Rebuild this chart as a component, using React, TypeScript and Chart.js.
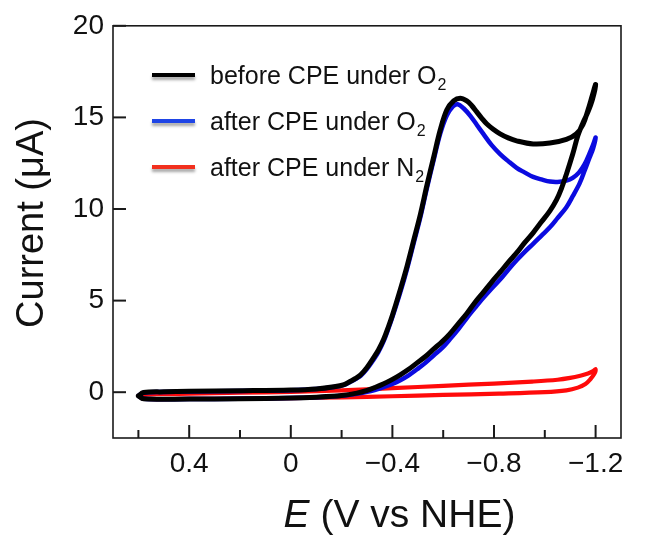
import React, { useEffect, useRef } from 'react';
import { Chart, registerables } from 'chart.js';

Chart.register(...registerables);

// ---- Data (E in V vs NHE, current in µA) ----
const blackE = [
  0.6, 0.58, 0.5, 0.4, 0.2, 0.0, -0.1, -0.17, -0.21, -0.235, -0.255, -0.275, -0.3, -0.327, -0.345, -0.366,
  -0.385, -0.4, -0.431, -0.458, -0.484, -0.51, -0.536, -0.562, -0.588, -0.614, -0.641, -0.667, -0.693,
  -0.712, -0.732, -0.752, -0.771, -0.797, -0.824, -0.856, -0.889, -0.954, -1.02, -1.085, -1.124, -1.15, -1.17, -1.187, -1.2,
  -1.188, -1.17, -1.15, -1.13, -1.11, -1.085, -1.065, -1.046, -1.02, -0.987, -0.954, -0.92, -0.889, -0.857,
  -0.824, -0.79, -0.758, -0.725, -0.693, -0.66, -0.627, -0.595, -0.562, -0.53, -0.497, -0.464, -0.431, -0.4,
  -0.366, -0.33, -0.301, -0.26, -0.2, -0.1, 0.0, 0.2, 0.4, 0.58, 0.6,
];
const blackI = [
  -0.2, -0.02, 0.02, 0.05, 0.08, 0.12, 0.18, 0.3, 0.42, 0.6, 0.75, 0.95, 1.35, 1.9, 2.3, 2.9,
  3.6, 4.2, 5.6, 6.9, 8.3, 9.7, 11.3, 12.8, 14.3, 15.4, 15.9, 16.05, 15.9,
  15.65, 15.3, 14.95, 14.65, 14.35, 14.1, 13.88, 13.72, 13.55, 13.6, 13.8, 14.1, 14.6, 15.4, 16.2, 16.8,
  16.0, 15.3, 14.7, 14.0, 13.0, 11.9, 11.1, 10.5, 9.9, 9.3, 8.7, 8.15, 7.6, 7.1,
  6.55, 6.0, 5.45, 4.9, 4.3, 3.75, 3.2, 2.75, 2.35, 1.95, 1.6, 1.25, 0.95, 0.7,
  0.46, 0.25, 0.1, -0.05, -0.18, -0.27, -0.32, -0.36, -0.37, -0.36, -0.2,
];

const blueE = [
  0.6, 0.58, 0.5, 0.4, 0.2, 0.0, -0.1, -0.17, -0.21, -0.235, -0.255, -0.275, -0.3, -0.327, -0.345, -0.366,
  -0.385, -0.4, -0.431, -0.458, -0.484, -0.51, -0.536, -0.562, -0.588, -0.614, -0.638, -0.657, -0.68,
  -0.706, -0.732, -0.758, -0.79, -0.824, -0.857, -0.889, -0.92, -0.954, -0.99, -1.02, -1.05, -1.085,
  -1.11, -1.135, -1.157, -1.175, -1.19, -1.2,
  -1.19, -1.176, -1.157, -1.137, -1.11, -1.085, -1.05, -1.02, -0.987, -0.954, -0.92, -0.889, -0.857,
  -0.824, -0.79, -0.758, -0.725, -0.693, -0.66, -0.627, -0.595, -0.562, -0.53, -0.497, -0.464, -0.431,
  -0.4, -0.366, -0.33, -0.301, -0.26, -0.2, -0.1, 0.0, 0.2, 0.4, 0.58, 0.6,
];
const blueI = [
  -0.2, -0.03, 0.01, 0.04, 0.07, 0.11, 0.17, 0.28, 0.4, 0.57, 0.72, 0.9, 1.28, 1.8, 2.2, 2.8,
  3.5, 4.1, 5.45, 6.75, 8.15, 9.55, 11.15, 12.65, 14.1, 15.1, 15.6, 15.72, 15.5,
  15.1, 14.6, 14.1, 13.5, 13.0, 12.6, 12.25, 12.0, 11.75, 11.6, 11.5, 11.48, 11.55,
  11.7, 12.0, 12.45, 13.0, 13.5, 13.9,
  13.3, 12.8, 12.1, 11.4, 10.7, 10.1, 9.5, 9.0, 8.55, 8.1, 7.65, 7.2, 6.7,
  6.15, 5.65, 5.15, 4.6, 4.05, 3.45, 2.9, 2.4, 2.0, 1.6, 1.25, 0.92, 0.65,
  0.45, 0.28, 0.12, 0.02, -0.08, -0.2, -0.28, -0.32, -0.36, -0.37, -0.36, -0.2,
];

const redE = [
  0.6, 0.58, 0.4, 0.2, 0.0, -0.2, -0.4, -0.6, -0.8, -0.95, -1.05, -1.1, -1.14, -1.17, -1.19, -1.2,
  -1.195, -1.18, -1.16, -1.13, -1.085, -1.0, -0.82, -0.6, -0.4, -0.2, 0.0, 0.2, 0.4, 0.58, 0.6,
];
const redI = [
  -0.2, -0.12, -0.08, -0.03, 0.02, 0.1, 0.22, 0.35, 0.47, 0.58, 0.68, 0.78, 0.9, 1.02, 1.15, 1.25,
  1.0, 0.72, 0.45, 0.25, 0.1, 0.0, -0.08, -0.15, -0.22, -0.28, -0.32, -0.35, -0.36, -0.35, -0.2,
];

const seriesLabels = ['before CPE under O₂', 'after CPE under O₂', 'after CPE under N₂'];
const legendMain = ['before CPE under O', 'after CPE under O', 'after CPE under N'];
const legendSub = ['2', '2', '2'];

const xMajorTicks = [0.4, 0, -0.4, -0.8, -1.2];
const xMinorTicks = [0.6, 0.2, -0.2, -0.6, -1.0];
const yTicks = [0, 5, 10, 15, 20];

const FONT = '"Liberation Sans", Arial, Helvetica, sans-serif';
const COLORS = ['#000000', '#0b0be0', '#ff0a0a'];
const LEGEND_COLORS = ['#000000', '#1f45e6', '#f2301e'];
const WIDTHS = [5, 4.5, 4.2];

const toPoints = (xs: number[], ys: number[]) => xs.map((x, i) => ({ x, y: ys[i] }));

const fmtX = (v: number) => {
  if (Math.abs(v) < 1e-9) return '0';
  const s = Math.abs(v).toFixed(1);
  return v < 0 ? '\u2212' + s : s;
};

const decorPlugin = {
  id: 'decor',
  afterDraw(chart: any) {
    const { ctx, chartArea: a } = chart;
    const xs = chart.scales.x;
    const ys = chart.scales.y;
    ctx.save();
    ctx.strokeStyle = '#1a1a1a';
    ctx.lineWidth = 1.6;
    ctx.strokeRect(a.left, a.top, a.right - a.left, a.bottom - a.top);

    const seg = (x1: number, y1: number, x2: number, y2: number) => {
      ctx.beginPath();
      ctx.moveTo(x1, y1);
      ctx.lineTo(x2, y2);
      ctx.stroke();
    };
    ctx.lineWidth = 2;
    yTicks.forEach((v) => {
      const py = ys.getPixelForValue(v);
      seg(a.left, py, a.left + 13, py);
    });
    xMajorTicks.forEach((v) => {
      const px = xs.getPixelForValue(v);
      seg(px, a.bottom, px, a.bottom - 13);
    });
    xMinorTicks.forEach((v) => {
      const px = xs.getPixelForValue(v);
      seg(px, a.bottom, px, a.bottom - 8);
    });

    // Legend
    const lx0 = 152, lx1 = 195, tx = 210;
    const rows = [75, 121, 167];
    legendMain.forEach((txt, i) => {
      const yy = rows[i];
      ctx.save();
      ctx.shadowColor = 'rgba(0,0,0,0.35)';
      ctx.shadowOffsetY = 3;
      ctx.shadowBlur = 3;
      ctx.strokeStyle = LEGEND_COLORS[i];
      ctx.lineWidth = 4;
      seg(lx0, yy, lx1, yy);
      ctx.restore();
      ctx.fillStyle = '#111';
      ctx.textAlign = 'left';
      ctx.textBaseline = 'alphabetic';
      ctx.font = `25px ${FONT}`;
      ctx.fillText(txt, tx, yy + 9);
      const w = ctx.measureText(txt).width;
      ctx.font = `16px ${FONT}`;
      ctx.fillText(legendSub[i], tx + w + 1, yy + 15);
    });

    // Axis titles
    ctx.fillStyle = '#111';
    ctx.save();
    ctx.translate(43, 223);
    ctx.rotate(-Math.PI / 2);
    ctx.font = `38px ${FONT}`;
    ctx.textAlign = 'center';
    ctx.textBaseline = 'alphabetic';
    ctx.fillText('Current (μA)', 0, 0);
    ctx.restore();

    ctx.textAlign = 'left';
    ctx.textBaseline = 'alphabetic';
    ctx.font = `italic 39px ${FONT}`;
    const e = 'E';
    const we = ctx.measureText(e).width;
    ctx.font = `39px ${FONT}`;
    const rest = ' (V vs NHE)';
    const wr = ctx.measureText(rest).width;
    const startX = 399.5 - (we + wr) / 2;
    ctx.font = `italic 39px ${FONT}`;
    ctx.fillText(e, startX, 527);
    ctx.font = `39px ${FONT}`;
    ctx.fillText(rest, startX + we, 527);
    ctx.restore();
  },
};

export default function App() {
  const ref = useRef<HTMLCanvasElement | null>(null);
  useEffect(() => {
    if (!ref.current) return;
    const data = [toPoints(blackE, blackI), toPoints(blueE, blueI), toPoints(redE, redI)];
    const chart = new Chart(ref.current, {
      type: 'scatter',
      data: {
        datasets: data.map((d, i) => ({
          label: seriesLabels[i],
          data: d,
          showLine: true,
          borderColor: COLORS[i],
          backgroundColor: COLORS[i],
          borderWidth: WIDTHS[i],
          pointRadius: 0,
          tension: 0.35,
          borderCapStyle: 'round',
          borderJoinStyle: 'round',
          fill: false,
        })),
      },
      options: {
        responsive: false,
        animation: false,
        layout: { padding: { left: 0, top: 25, right: 50, bottom: 0 } },
        plugins: { legend: { display: false }, tooltip: { enabled: false }, title: { display: false } },
        scales: {
          x: {
            type: 'linear',
            min: -1.3,
            max: 0.7,
            reverse: true,
            afterBuildTicks: (s: any) => {
              s.ticks = xMajorTicks.map((v) => ({ value: v }));
            },
            afterFit: (s: any) => {
              s.height = 98;
            },
            grid: { display: false, drawTicks: false },
            border: { display: false },
            ticks: {
              autoSkip: false,
              maxRotation: 0,
              minRotation: 0,
              padding: 9,
              color: '#111',
              font: { family: FONT, size: 28 },
              callback: (v: any) => fmtX(Number(v)),
            },
          },
          y: {
            type: 'linear',
            min: -2.5,
            max: 20,
            afterBuildTicks: (s: any) => {
              s.ticks = yTicks.map((v) => ({ value: v }));
            },
            afterFit: (s: any) => {
              s.width = 113;
            },
            grid: { display: false, drawTicks: false },
            border: { display: false },
            ticks: {
              autoSkip: false,
              padding: 9,
              color: '#111',
              font: { family: FONT, size: 28 },
              callback: (v: any) => String(v),
            },
          },
        },
      },
      plugins: [decorPlugin],
    } as any);
    return () => chart.destroy();
  }, []);
  return (
    <div style={{ position: 'fixed', left: 0, top: 0, width: 671, height: 536, background: '#fff' }}>
      <canvas ref={ref} width={671} height={536} style={{ width: 671, height: 536, display: 'block' }} />
    </div>
  );
}
